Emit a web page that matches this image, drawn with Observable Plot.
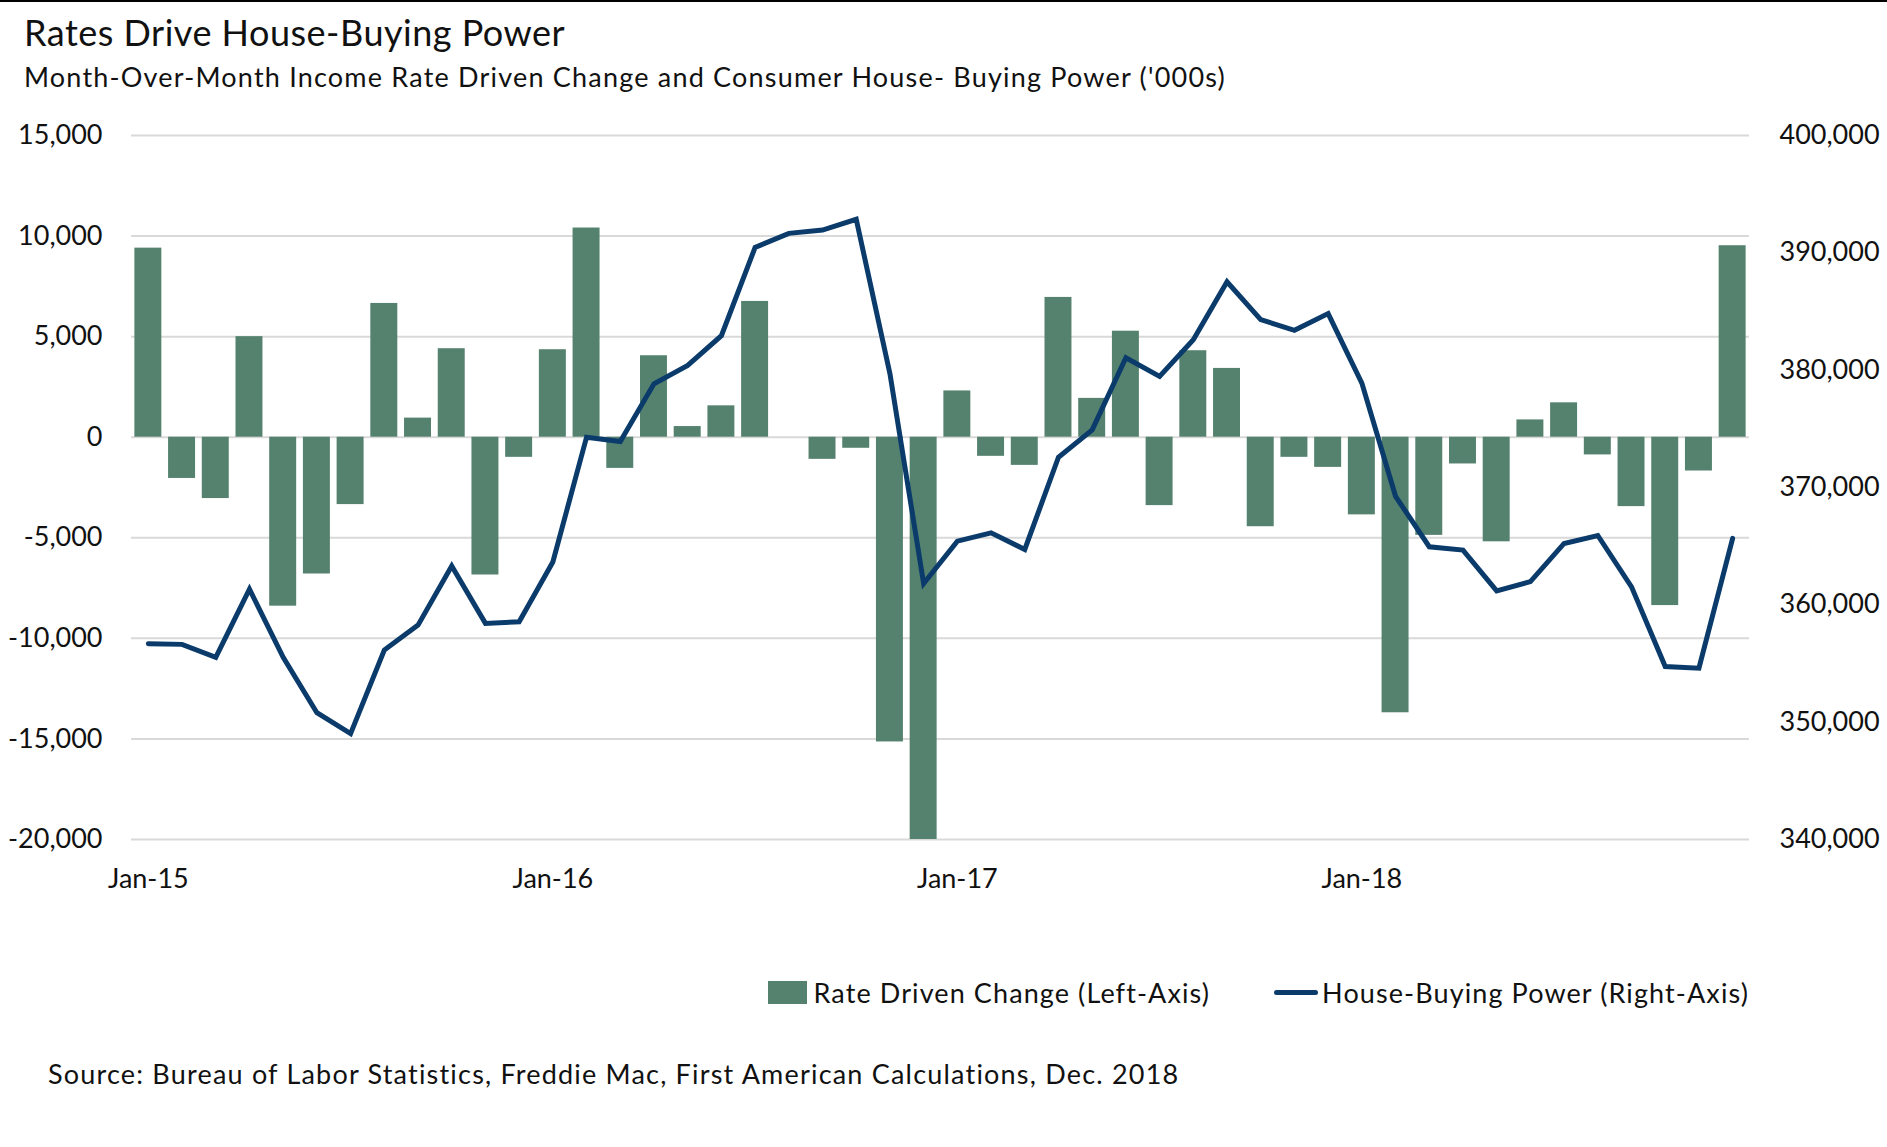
<!DOCTYPE html>
<html><head><meta charset="utf-8">
<script src="https://cdn.jsdelivr.net/npm/d3@7"></script>
<script src="https://cdn.jsdelivr.net/npm/@observablehq/plot@0.6"></script>
<style>
html,body{margin:0;padding:0;background:#fff;}
#page{position:relative;width:1887px;height:1147px;overflow:hidden;font-family:Lato,"Open Sans",sans-serif;color:#111;background:#fff;}
#topline{position:absolute;left:0;top:0;width:1887px;height:2px;background:#000;}
.t{position:absolute;line-height:1;white-space:nowrap;}
#title{left:24px;top:14px;font-size:36px;letter-spacing:0.5px;}
#subtitle{left:24px;top:63px;font-size:27px;letter-spacing:1.2px;}
#chart{position:absolute;left:0;top:100px;}
#legend{position:absolute;top:979px;right:138px;display:flex;align-items:center;font-size:27px;letter-spacing:1.1px;line-height:1;white-space:nowrap;}
.item{display:flex;align-items:center;}
.sw-bar{width:39px;height:23px;background:#55826f;margin-right:7px;}
.sw-line{width:44px;height:5px;border-radius:3px;background:#0a3b6b;margin-right:4px;margin-left:64px;}
#source{left:48px;top:1060px;font-size:27px;letter-spacing:1.2px;}
</style></head><body>
<div id="page">
<div id="topline"></div>
<div id="title" class="t">Rates Drive House-Buying Power</div>
<div id="subtitle" class="t">Month-Over-Month Income Rate Driven Change and Consumer House- Buying Power ('000s)</div>
<div id="chart"></div>
<div id="legend">
  <div class="item"><div class="sw-bar"></div><span>Rate Driven Change (Left-Axis)</span></div>
  <div class="item"><div class="sw-line"></div><span>House-Buying Power (Right-Axis)</span></div>
</div>
<div id="source" class="t">Source: Bureau of Labor Statistics, Freddie Mac, First American Calculations, Dec. 2018</div>
</div>
<script>
const monthNames = ["Jan","Feb","Mar","Apr","May","Jun","Jul","Aug","Sep","Oct","Nov","Dec"];
const years = ["15","16","17","18"];
const months = years.flatMap(y => monthNames.map(m => m + "-" + y));

const rateChange = [
  9400, -2050, -3050, 5000, -8400, -6800, -3350, 6650, 950, 4400, -6850, -1000,
  4350, 10400, -1550, 4050, 530, 1560, 6750, 0, -1100, -550, -15150, -20000,
  2300, -950, -1400, 6950, 1930, 5270, -3400, 4300, 3420, -4450, -1000, -1500,
  -3860, -13700, -4880, -1330, -5200, 860, 1710, -880, -3450, -8370, -1680, 9520
];
const buyingPower = [
  356690, 356630, 355530, 361330, 355530, 350805, 349020, 356150, 358270, 363310, 358420, 358560,
  363650, 374290, 373920, 378840, 380410, 382940, 390460, 391660, 391940, 392860, 379700, 361810,
  365430, 366140, 364720, 372580, 374910, 381060, 379470, 382600, 387530, 384310, 383400, 384820,
  378900, 369250, 364950, 364670, 361190, 361980, 365230, 365910, 361530, 354740, 354600, 365660
];
const leftTicks = [-20000, -15000, -10000, -5000, 0, 5000, 10000, 15000];
const rightTicks = [340000, 350000, 360000, 370000, 380000, 390000, 400000];
const xTickLabels = ["Jan-15", "Jan-16", "Jan-17", "Jan-18"];

const leftDomain = [-20000, 15000];
const rightDomain = [340000, 400000];
const toLeft = v => leftDomain[0] + (v - rightDomain[0]) * (leftDomain[1] - leftDomain[0]) / (rightDomain[1] - rightDomain[0]);
const toRight = v => rightDomain[0] + (v - leftDomain[0]) * (rightDomain[1] - rightDomain[0]) / (leftDomain[1] - leftDomain[0]);
const fmt = d => (d < 0 ? "-" : "") + d3.format(",")(Math.abs(Math.round(d)));

const bars = months.map((m, i) => ({month: m, value: rateChange[i]}));
const line = months.map((m, i) => ({month: m, value: toLeft(buyingPower[i])}));

const chart = Plot.plot({
  width: 1887,
  height: 820,
  marginTop: 35,
  marginBottom: 81,
  marginLeft: 131,
  marginRight: 138,
  style: {fontFamily: "Lato, 'Open Sans', sans-serif", fontSize: "27px", color: "#111", background: "transparent", overflow: "visible"},
  x: {type: "band", domain: months, paddingInner: 0.2, paddingOuter: 0.1, axis: null},
  y: {domain: leftDomain, axis: null},
  marks: [
    Plot.gridY(leftTicks, {stroke: "#d9d9d9", strokeOpacity: 1, strokeWidth: 2}),
    Plot.barY(bars, {x: "month", y: "value", fill: "#55826f"}),
    Plot.line(line, {x: "month", y: "value", stroke: "#0a3b6b", strokeWidth: 5, strokeLinejoin: "miter", strokeMiterlimit: 3}),
    Plot.axisY(leftTicks, {anchor: "left", label: null, tickSize: 0, tickPadding: 29, tickFormat: fmt, fill: "#111"}),
    Plot.axisY(rightTicks.map(toLeft), {anchor: "right", label: null, tickSize: 0, tickPadding: 30, tickFormat: d => fmt(toRight(d)), fill: "#111"}),
    Plot.axisX({anchor: "bottom", label: null, ticks: xTickLabels, tickSize: 0, tickPadding: 29, fill: "#111"})
  ]
});
document.getElementById("chart").appendChild(chart);
</script>
</body></html>
